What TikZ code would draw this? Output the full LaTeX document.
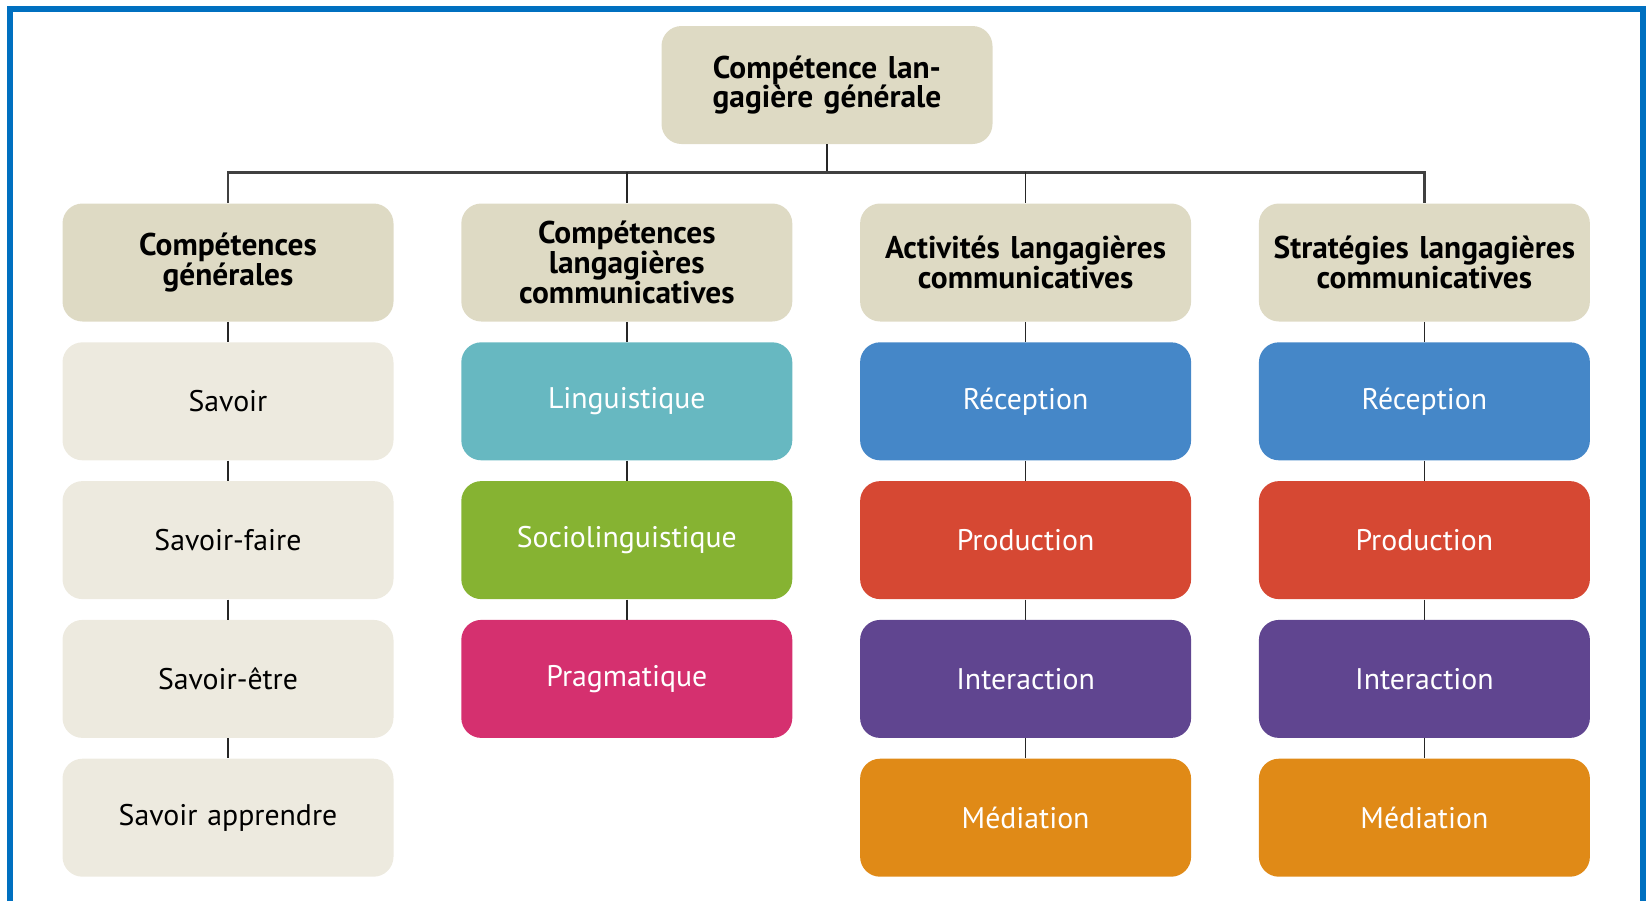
\documentclass[tikz,border=0pt]{standalone}
\usepackage{fontspec}
\setmainfont{PT Sans}
\usetikzlibrary{positioning}
\definecolor{frameblue}{RGB}{0,112,192}
\definecolor{headbeige}{RGB}{222,218,196}
\definecolor{lightbeige}{RGB}{237,234,223}
\definecolor{tealbox}{RGB}{103,184,193}
\definecolor{greenbox}{RGB}{134,179,50}
\definecolor{pinkbox}{RGB}{213,48,111}
\definecolor{bluebox}{RGB}{69,135,200}
\definecolor{redbox}{RGB}{214,72,51}
\definecolor{purplebox}{RGB}{96,69,144}
\definecolor{orangebox}{RGB}{224,138,23}
\tikzset{
    %Define style for boxes
    box/.style={
           rectangle,
           rounded corners=10pt,
           minimum width=165.5pt,
           minimum height=59pt,
           inner sep=2pt,
           text width=160pt,
           align=center,
           font=\fontsize{14.9}{18}\selectfont},
    headbox/.style={
           box,
           fill=headbeige,
           font=\fontsize{15.7}{14.8}\selectfont\bfseries},
    lightbox/.style={
           box,
           fill=lightbeige},
    colbox/.style={
           box,
           fill=#1,
           text=white},
    % Define line styles
    link/.style={
           draw=black!85,
           line width=0.8pt},
    bus/.style={
           draw=black!75,
           line width=1.2pt},
    frame/.style={
           draw=frameblue,
           line width=3pt}
}
\begin{document}
\begin{tikzpicture}
  \useasboundingbox (0pt,0pt) rectangle (824pt,-450.5pt);
  \draw[frame] (5pt,-450.5pt) -- (5pt,-4.5pt) -- (821.5pt,-4.5pt) -- (821.5pt,-450.5pt);
  \begin{scope}
  \node[headbox] (general) at (413.5pt,-42.5pt) {Compétence lan-\\gagière générale};
  \coordinate[below=14pt of general.south] (bus);
  % column heads
  \node[headbox] (comp-gen) at (114pt,-131.25pt) {Compétences\\générales};
  \node[headbox, right=33.5pt of comp-gen] (comp-lang) {Compétences\\langagières\\communicatives};
  \node[headbox, right=33.5pt of comp-lang] (act) {Activités langagières\\communicatives};
  \node[headbox, right=33.5pt of act] (strat) {Stratégies langagières\\communicatives};
  % first column
  \node[lightbox, below=10pt of comp-gen] (savoir) {Savoir};
  \node[lightbox, below=10pt of savoir] (savoir-faire) {Savoir-faire};
  \node[lightbox, below=10pt of savoir-faire] (savoir-etre) {Savoir-être};
  \node[lightbox, below=10pt of savoir-etre] (savoir-app) {Savoir apprendre};
  % second column
  \node[colbox=tealbox, below=10pt of comp-lang] (ling) {Linguistique};
  \node[colbox=greenbox, below=10pt of ling] (socio) {Sociolinguistique};
  \node[colbox=pinkbox, below=10pt of socio] (prag) {Pragmatique};
  % third column
  \node[colbox=bluebox, below=10pt of act] (act-rec) {Réception};
  \node[colbox=redbox, below=10pt of act-rec] (act-prod) {Production};
  \node[colbox=purplebox, below=10pt of act-prod] (act-inter) {Interaction};
  \node[colbox=orangebox, below=10pt of act-inter] (act-med) {Médiation};
  % fourth column
  \node[colbox=bluebox, below=10pt of strat] (strat-rec) {Réception};
  \node[colbox=redbox, below=10pt of strat-rec] (strat-prod) {Production};
  \node[colbox=purplebox, below=10pt of strat-prod] (strat-inter) {Interaction};
  \node[colbox=orangebox, below=10pt of strat-inter] (strat-med) {Médiation};
  % connectors
  \draw[link] (general.south) -- (bus);
  \draw[bus] (comp-gen.north) |- (bus) -| (strat.north);
  \draw[link] (comp-lang.north) -- (comp-lang.north |- bus);
  \draw[link] (act.north) -- (act.north |- bus);
  \foreach \a/\b in {comp-gen/savoir, savoir/savoir-faire, savoir-faire/savoir-etre,
      savoir-etre/savoir-app, comp-lang/ling, ling/socio, socio/prag,
      act/act-rec, act-rec/act-prod, act-prod/act-inter, act-inter/act-med,
      strat/strat-rec, strat-rec/strat-prod, strat-prod/strat-inter, strat-inter/strat-med}
    \draw[link] (\a.south) -- (\b.north);
  \end{scope}
\end{tikzpicture}
\end{document}
